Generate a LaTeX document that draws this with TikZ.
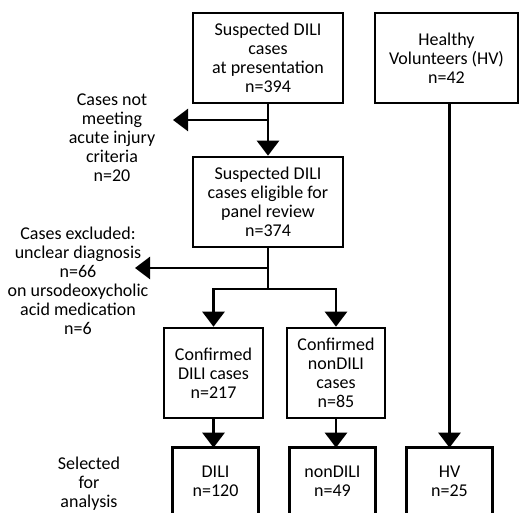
\documentclass[tikz,border=0pt]{standalone}
\usepackage{fontspec}
\setmainfont{Carlito}
\usetikzlibrary{arrows.meta}

\begin{document}
\begin{tikzpicture}[x=1pt,y=-1pt,
    line width=2.6pt,
    font=\fontsize{18}{19}\selectfont,
    box/.style={draw,align=center,inner sep=0pt},
    txt/.style={align=center,inner sep=0pt},
    arr/.style={-{Triangle[width=22pt,length=15pt]}}]
  \useasboundingbox (0,0) rectangle (528,513);
  % top row
  \node[box,minimum width=150pt,minimum height=90pt] (susp) at (268,58)
    {Suspected DILI\\cases\\at presentation\\n=394};
  \node[box,minimum width=143pt,minimum height=90pt] (hv) at (446.5,58)
    {Healthy\\Volunteers (HV)\\n=42};
  \node[box,minimum width=150pt,minimum height=90pt] (elig) at (268,202)
    {Suspected DILI\\cases eligible for\\panel review\\n=374};
  \node[box,minimum width=99pt,minimum height=90pt] (conf) at (213.5,373)
    {Confirmed\\DILI cases\\n=217};
  \node[box,minimum width=98pt,minimum height=90pt] (nonconf) at (336,373)
    {Confirmed\\nonDILI\\cases\\n=85};
  % selected (box runs off the bottom)
  \node[txt,minimum width=83pt,minimum height=64pt] (dili) at (215.5,481) {DILI\\n=120};
  \node[txt,minimum width=83pt,minimum height=64pt] (nondili) at (332.5,481) {nonDILI\\n=49};
  \node[txt,minimum width=83pt,minimum height=64pt] (hvsel) at (449.5,481) {HV\\n=25};
  \foreach \n in {dili,nondili,hvsel}
    \draw (\n.south west) -- (\n.north west) -- (\n.north east) -- (\n.south east);
  % side texts
  \node[txt] (notmeet) at (112,138) {Cases not\\meeting\\acute injury\\criteria\\n=20};
  \node[txt] (excl) at (78,281) {Cases excluded:\\unclear diagnosis\\n=66\\on ursodeoxycholic\\acid medication\\n=6};
  \node[txt] (sel) at (89,484) {Selected\\for\\analysis};
  % connectors
  \coordinate (c1) at (173,120);
  \coordinate (c2) at (135,268);
  \coordinate (j1) at (268,289);
  \draw[arr] (susp.south) -- (elig.north);
  \draw[arr] (susp.south |- c1) -- (c1);
  \draw (elig.south) -- (j1);
  \draw[arr] (elig.south |- c2) -- (c2);
  \draw[arr] (j1) -| (conf.north);
  \draw[arr] (j1) -| (nonconf.north);
  \draw[arr] (conf.south) -- (conf.south |- dili.north);
  \draw[arr] (nonconf.south) -- (nonconf.south |- nondili.north);
  \draw[arr] (hvsel.north |- hv.south) -- (hvsel.north);
\end{tikzpicture}
\end{document}
